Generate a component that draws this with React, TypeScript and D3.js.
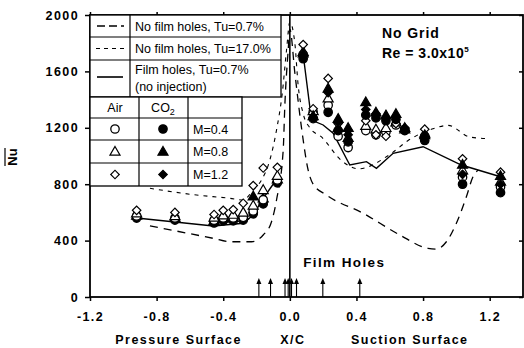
import React, { useEffect, useRef } from "react";
import * as d3 from "d3";

const W = 524;
const H = 348;

const xTicks = [-1.2, -0.8, -0.4, 0, 0.4, 0.8, 1.2];
const yTicks = [0, 400, 800, 1200, 1600, 2000];

// measurement stations
const pressureX = [-0.92, -0.69, -0.455, -0.40, -0.34, -0.28, -0.22, -0.16, -0.075];
const suctionX = [0.08, 0.14, 0.23, 0.29, 0.35, 0.456, 0.517, 0.577, 0.637, 0.69, 0.81, 1.037, 1.265];

// pressure surface Nu
const pAirM04 = [575, 560, 545, 560, 560, 565, 610, 690, 830];
const pAirM08 = [595, 575, 565, 580, 585, 600, 650, 760, 860];
const pAirM12 = [615, 600, 585, 615, 620, 665, 790, 915, 920];
const pCo2M04 = [560, 545, 525, 540, 540, 545, 590, 660, 810];
const pCo2M08 = [578, 562, 542, 558, 562, 580, 715, 700, 835];
const pCo2M12 = [568, 552, 535, 550, 552, 560, 600, 675, 820];

// suction surface Nu
const sAirM04 = [1720, 1310, 1360, 1140, 1060, 1180, 1150, 1170, 1220, 1185, 1140, 850, 780];
const sAirM08 = [1740, 1320, 1410, 1200, 1130, 1215, 1190, 1200, 1240, 1190, 1160, 900, 820];
const sAirM12 = [1790, 1335, 1550, 1230, 1180, 1250, 1150, 1140, 1230, 1200, 1190, 980, 885];
const sCo2M04 = [1690, 1265, 1310, 1180, 1100, 1290, 1270, 1250, 1260, 1180, 1110, 800, 740];
const sCo2M08 = [1730, 1285, 1480, 1265, 1200, 1383, 1310, 1290, 1300, 1200, 1150, 940, 860];
const sCo2M12 = [1710, 1275, 1450, 1240, 1150, 1330, 1300, 1270, 1280, 1195, 1130, 870, 800];

// reference curves
const noHoles07X = [-0.84, -0.46, -0.36, -0.23, -0.16, -0.11, -0.08, -0.04, -0.03, -0.01, 0.0, 0.03, 0.07, 0.11, 0.14, 0.22, 0.44, 0.66, 0.83, 0.88, 0.94, 1.0, 1.06, 1.1, 1.13];
const noHoles07Y = [504, 416, 392, 392, 440, 534, 688, 1040, 1360, 1750, 1900, 1590, 1200, 900, 800, 723, 594, 440, 345, 340, 392, 523, 711, 853, 900];

const noHoles17X = [-0.84, -0.56, -0.36, -0.28, -0.22, -0.17, -0.12, -0.08, -0.045, -0.02, 0.0, 0.03, 0.05, 0.08, 0.12, 0.19, 0.31, 0.41, 0.61, 0.71, 0.86, 0.95, 1.08, 1.2];
const noHoles17Y = [771, 723, 700, 688, 759, 830, 972, 1184, 1450, 1750, 1950, 1800, 1500, 1300, 1200, 1135, 968, 909, 1019, 1110, 1193, 1217, 1135, 1122];

const filmPX = [-0.92, -0.46, -0.28, -0.22, -0.16, -0.075];
const filmPY = [560, 504, 523, 582, 700, 842];
const filmSX = [0.08, 0.13, 0.2, 0.26, 0.36, 0.46, 0.52, 0.62, 0.8, 1.03, 1.265];
const filmSY = [1720, 1255, 1220, 1161, 936, 960, 913, 1019, 1066, 936, 853];

const holeX = [-0.186, -0.116, -0.029, -0.01, 0.01, 0.04, 0.198, 0.42];

const legendLines = [
  ["No film holes, Tu=0.7%"],
  ["No film holes, Tu=17.0%"],
  ["Film holes, Tu=0.7%", "(no injection)"],
];
const legendM = ["M=0.4", "M=0.8", "M=1.2"];

const FONT = "'Liberation Sans', Arial, Helvetica, sans-serif";

type Kind = "circle" | "triangle" | "diamond";

function Marker({ cx, cy, kind, filled }: { cx: number; cy: number; kind: Kind; filled: boolean }) {
  const fill = filled ? "#000" : "#fff";
  if (kind === "circle") {
    return <circle cx={cx} cy={cy} r={4.2} fill={fill} stroke="#000" strokeWidth={1.3} />;
  }
  if (kind === "triangle") {
    const p = d3.symbol().type(d3.symbolTriangle).size(44)() as string;
    return <path d={p} transform={`translate(${cx},${cy + 0.8})`} fill={fill} stroke="#000" strokeWidth={1.2} />;
  }
  const p = d3.symbol().type(d3.symbolSquare).size(36)() as string;
  return <path d={p} transform={`translate(${cx},${cy}) rotate(45)`} fill={fill} stroke="#000" strokeWidth={1.2} />;
}

export default function App() {
  const x = d3.scaleLinear().domain([-1.2, 1.4]).range([90, 523]);
  const y = d3.scaleLinear().domain([0, 2000]).range([297, 15]);

  const gLeft = useRef<SVGGElement>(null);
  const gBottom = useRef<SVGGElement>(null);
  const gTop = useRef<SVGGElement>(null);
  const gRight = useRef<SVGGElement>(null);

  useEffect(() => {
    document.body.style.margin = "0";
    const style = (g: d3.Selection<SVGGElement, unknown, null, undefined>) => {
      g.select(".domain").remove();
      g.selectAll("line").attr("stroke", "#000").attr("stroke-width", 1.5);
      g.selectAll("text")
        .attr("fill", "#000")
        .style("font-family", FONT)
        .style("font-size", "12.5px")
        .style("font-weight", "bold")
        .style("letter-spacing", "1.4px");
    };
    const l = d3.select(gLeft.current!);
    l.call(d3.axisLeft(y).tickValues(yTicks).tickSize(5).tickPadding(6).tickFormat((d) => String(d)));
    style(l);
    const b = d3.select(gBottom.current!);
    b.call(d3.axisBottom(x).tickValues(xTicks).tickSize(4).tickPadding(11).tickFormat((d) => (d as number).toFixed(1)));
    style(b);
    const t = d3.select(gTop.current!);
    t.call(d3.axisTop(x).tickValues(xTicks).tickSize(3).tickFormat(() => ""));
    style(t);
    const r = d3.select(gRight.current!);
    r.call(d3.axisLeft(y).tickValues(yTicks).tickSize(4).tickFormat(() => ""));
    style(r);
  }, []);

  const curve = (xs: number[], ys: number[], c: d3.CurveFactory) =>
    d3
      .line<number>()
      .x((_, i) => x(xs[i]))
      .y((_, i) => y(ys[i]))
      .curve(c)(xs) as string;

  const series: { xs: number[]; ys: number[]; kind: Kind; filled: boolean }[] = [
    { xs: pressureX, ys: pCo2M04, kind: "circle", filled: true },
    { xs: pressureX, ys: pCo2M12, kind: "diamond", filled: true },
    { xs: pressureX, ys: pCo2M08, kind: "triangle", filled: true },
    { xs: pressureX, ys: pAirM04, kind: "circle", filled: false },
    { xs: pressureX, ys: pAirM08, kind: "triangle", filled: false },
    { xs: pressureX, ys: pAirM12, kind: "diamond", filled: false },
    { xs: suctionX, ys: sAirM04, kind: "circle", filled: false },
    { xs: suctionX, ys: sAirM08, kind: "triangle", filled: false },
    { xs: suctionX, ys: sAirM12, kind: "diamond", filled: false },
    { xs: suctionX, ys: sCo2M04, kind: "circle", filled: true },
    { xs: suctionX, ys: sCo2M12, kind: "diamond", filled: true },
    { xs: suctionX, ys: sCo2M08, kind: "triangle", filled: true },
  ];

  const x0 = x(0);
  const legendRowsTop = [15, 37, 60, 97];
  const tableRows = [97, 118, 140, 163, 186];
  const kinds: Kind[] = ["circle", "triangle", "diamond"];

  return (
    <svg width={W} height={H} style={{ position: "absolute", left: 0, top: 0, background: "#fff" }} fontFamily={FONT}>
      <rect x={0} y={0} width={W} height={H} fill="#fff" />

      {/* reference curves */}
      <path d={curve(noHoles07X, noHoles07Y, d3.curveMonotoneX)} fill="none" stroke="#000" strokeWidth={1.3} strokeDasharray="8,6" />
      <path d={curve(noHoles17X, noHoles17Y, d3.curveMonotoneX)} fill="none" stroke="#000" strokeWidth={1.1} strokeDasharray="4,5" />
      <path d={curve(filmPX, filmPY, d3.curveLinear)} fill="none" stroke="#000" strokeWidth={1.4} />
      <path d={curve(filmSX, filmSY, d3.curveLinear)} fill="none" stroke="#000" strokeWidth={1.4} />

      {/* data markers */}
      {series.map((s, si) =>
        s.xs.map((xv, i) => <Marker key={`${si}-${i}`} cx={x(xv)} cy={y(s.ys[i])} kind={s.kind} filled={s.filled} />)
      )}

      {/* stagnation line */}
      <line x1={x0} x2={x0} y1={y(2000)} y2={y(0)} stroke="#000" strokeWidth={1.6} />

      {/* film hole arrows */}
      {holeX.map((h, i) => (
        <g key={i}>
          <line x1={x(h)} x2={x(h)} y1={y(0)} y2={y(0) - 15} stroke="#000" strokeWidth={1.1} />
          <path d={`M${x(h)},${y(0) - 19} L${x(h) - 2.5},${y(0) - 13} L${x(h) + 2.5},${y(0) - 13} Z`} fill="#000" />
        </g>
      ))}
      <text x={x(0.08)} y={267} fontSize={13.5} fontWeight="bold" letterSpacing={1.4}>Film Holes</text>

      {/* frame & axes */}
      <rect x={x(-1.2)} y={y(2000)} width={x(1.4) - x(-1.2)} height={y(0) - y(2000)} fill="none" stroke="#000" strokeWidth={1.8} />
      <g ref={gLeft} transform={`translate(${x(-1.2)},0)`} />
      <g ref={gBottom} transform={`translate(0,${y(0)})`} />
      <g ref={gTop} transform={`translate(0,${y(2000)})`} />
      <g ref={gRight} transform={`translate(${x(1.4)},0)`} />

      {/* legend: line styles */}
      <rect x={90} y={15} width={191} height={82} fill="#fff" stroke="#000" strokeWidth={1.3} />
      {legendRowsTop.slice(1, 3).map((ry) => (
        <line key={ry} x1={90} x2={281} y1={ry} y2={ry} stroke="#000" strokeWidth={1.2} />
      ))}
      <line x1={130} x2={130} y1={15} y2={97} stroke="#000" strokeWidth={1.2} />
      <line x1={97} x2={124} y1={26} y2={26} stroke="#000" strokeWidth={1.5} strokeDasharray="8,4" />
      <line x1={96} x2={124} y1={48.5} y2={48.5} stroke="#000" strokeWidth={1.2} strokeDasharray="4,4" />
      <line x1={97} x2={123} y1={77} y2={77} stroke="#000" strokeWidth={1.6} />
      <text x={135} y={30.5} fontSize={12.5}>{legendLines[0][0]}</text>
      <text x={135} y={53} fontSize={12.5}>{legendLines[1][0]}</text>
      <text x={135} y={74} fontSize={12.5}>{legendLines[2][0]}</text>
      <text x={135} y={91} fontSize={12.5}>{legendLines[2][1]}</text>

      {/* legend: symbol table */}
      <rect x={90} y={97} width={152} height={89} fill="#fff" stroke="#000" strokeWidth={1.3} />
      {tableRows.slice(1, 4).map((ry) => (
        <line key={ry} x1={90} x2={242} y1={ry} y2={ry} stroke="#000" strokeWidth={1.2} />
      ))}
      <line x1={139} x2={139} y1={97} y2={186} stroke="#000" strokeWidth={1.2} />
      <line x1={188} x2={188} y1={97} y2={186} stroke="#000" strokeWidth={1.2} />
      <text x={115} y={112} fontSize={12.5} textAnchor="middle">Air</text>
      <text x={163} y={112} fontSize={12.5} textAnchor="middle">
        CO<tspan fontSize={9} dy={3}>2</tspan>
      </text>
      {legendM.map((m, i) => {
        const cy = (tableRows[i + 1] + tableRows[i + 2]) / 2;
        return (
          <g key={m}>
            <Marker cx={115} cy={cy} kind={kinds[i]} filled={false} />
            <Marker cx={163} cy={cy} kind={kinds[i]} filled={true} />
            <text x={193} y={cy + 4.5} fontSize={12.5}>{m}</text>
          </g>
        );
      })}

      {/* annotations */}
      <text x={382} y={38} fontSize={14} fontWeight="bold" letterSpacing={0.9}>No Grid</text>
      <text x={382} y={58} fontSize={14} fontWeight="bold" letterSpacing={0.5}>
        Re = 3.0x10<tspan fontSize={8} dy={-6}>5</tspan>
      </text>

      {/* axis titles */}
      <text x={x(-0.8) + 22} y={344} fontSize={12.5} fontWeight="bold" letterSpacing={1.5} textAnchor="middle">Pressure Surface</text>
      <text x={x(0) + 3} y={344} fontSize={12.5} fontWeight="bold" letterSpacing={1.5} textAnchor="middle">X/C</text>
      <text x={x(0.72)} y={344} fontSize={12.5} fontWeight="bold" letterSpacing={1.5} textAnchor="middle">Suction Surface</text>
      <g transform="translate(17,157) rotate(-90)">
        <text x={0} y={0} fontSize={13} fontWeight="bold" textAnchor="middle">Nu</text>
        <line x1={-9} x2={9} y1={-12} y2={-12} stroke="#000" strokeWidth={1.2} />
      </g>
    </svg>
  );
}
